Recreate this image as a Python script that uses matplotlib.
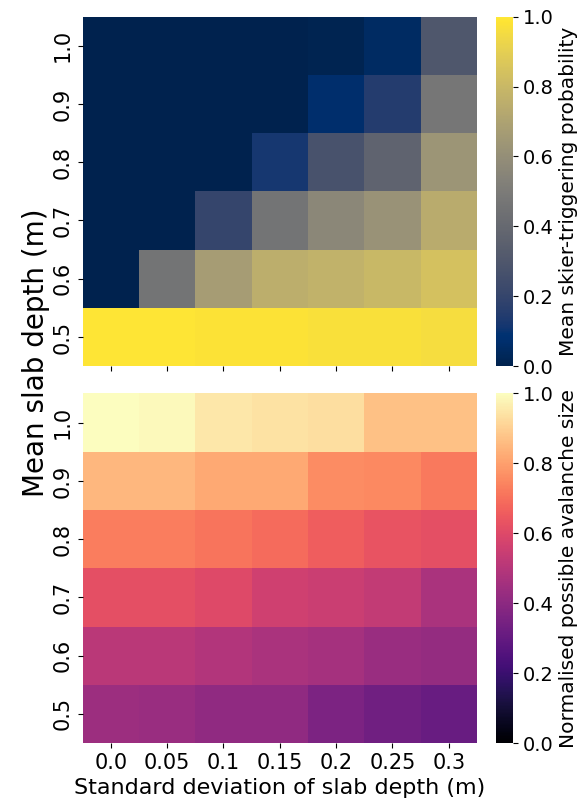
import numpy as np
import matplotlib.pyplot as plt

# axis categories
std_devs = ["0.0", "0.05", "0.1", "0.15", "0.2", "0.25", "0.3"]
mean_depths = ["1.0", "0.9", "0.8", "0.7", "0.6", "0.5"]

# mean skier-triggering probability, rows = mean depth (1.0 -> 0.5)
trigger_prob = [
    [0.00, 0.00, 0.00, 0.00, 0.01, 0.05, 0.30],
    [0.00, 0.00, 0.00, 0.00, 0.07, 0.15, 0.47],
    [0.00, 0.00, 0.00, 0.12, 0.27, 0.37, 0.63],
    [0.00, 0.00, 0.20, 0.46, 0.56, 0.62, 0.74],
    [0.00, 0.46, 0.67, 0.75, 0.77, 0.80, 0.84],
    [0.99, 0.99, 0.98, 0.98, 0.97, 0.97, 0.96],
]

# normalised possible avalanche size
aval_size = [
    [1.00, 0.99, 0.95, 0.94, 0.93, 0.87, 0.87],
    [0.85, 0.85, 0.82, 0.82, 0.76, 0.75, 0.72],
    [0.73, 0.73, 0.71, 0.69, 0.66, 0.63, 0.62],
    [0.62, 0.62, 0.60, 0.56, 0.55, 0.53, 0.47],
    [0.51, 0.51, 0.49, 0.47, 0.46, 0.43, 0.42],
    [0.44, 0.43, 0.41, 0.41, 0.36, 0.33, 0.31],
]

fig = plt.figure(figsize=(5.84, 8.1), dpi=100)

ax1 = fig.add_axes([0.1416, 0.548, 0.675, 0.4315])
cax1 = fig.add_axes([0.850, 0.548, 0.0283, 0.4315])
ax2 = fig.add_axes([0.1416, 0.0827, 0.675, 0.4315])
cax2 = fig.add_axes([0.850, 0.0827, 0.0283, 0.4315])


def draw_heat(ax, cax, data, cmap, label, show_x):
    data = np.array(data)
    mesh = ax.pcolormesh(data, cmap=cmap, vmin=0, vmax=1)
    ax.set_xlim(0, data.shape[1])
    ax.set_ylim(data.shape[0], 0)
    for s in ax.spines.values():
        s.set_visible(False)
    ax.set_xticks(np.arange(len(std_devs)) + 0.5)
    ax.set_yticks(np.arange(len(mean_depths)) + 0.5)
    ax.set_yticklabels(mean_depths, rotation=90, va="center", fontsize=15)
    if show_x:
        ax.set_xticklabels(std_devs, fontsize=15)
    else:
        ax.set_xticklabels([])
    cb = fig.colorbar(mesh, cax=cax)
    cb.outline.set_visible(False)
    cb.set_ticks([0, 0.2, 0.4, 0.6, 0.8, 1.0])
    cb.ax.tick_params(labelsize=14)
    cb.set_label(label, fontsize=14.5)
    return cb


draw_heat(ax1, cax1, trigger_prob, "cividis", "Mean skier-triggering probability", False)
draw_heat(ax2, cax2, aval_size, "magma", "Normalised possible avalanche size", True)

ax2.set_xlabel("Standard deviation of slab depth (m)", fontsize=16)
fig.text(0.061, 0.564, "Mean slab depth (m)", rotation=90, fontsize=20,
         ha="center", va="center")

fig.savefig("out.png", dpi=100)
